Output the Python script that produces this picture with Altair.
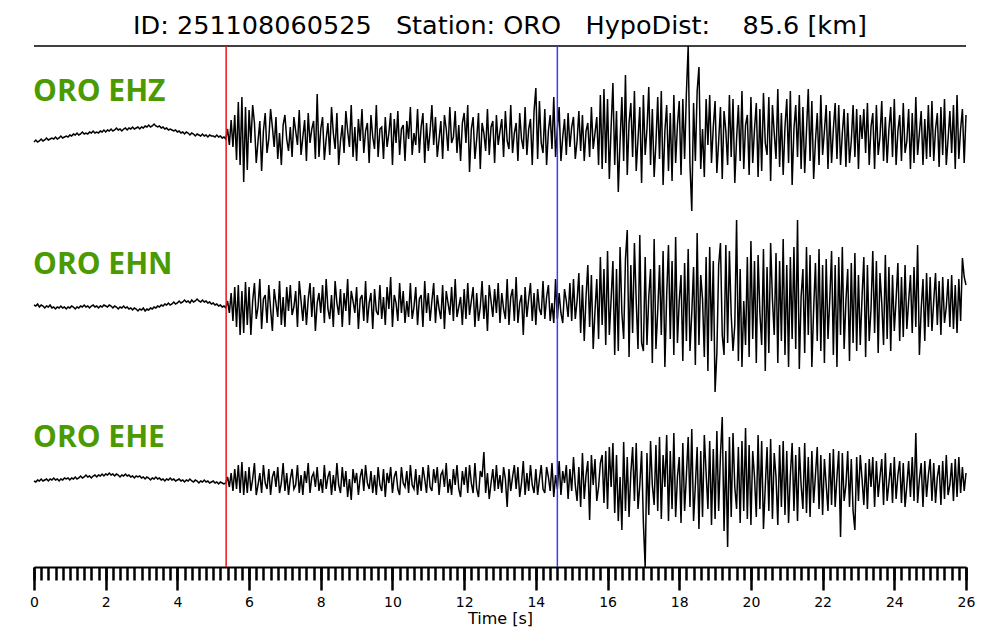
import altair as alt
import pandas as pd

# ---------------- data ----------------
DT = 0.05  # sample interval [s]
CHANNELS = ["ORO EHZ", "ORO EHN", "ORO EHE"]
PICK_NAMES = ["P", "S"]
PICK_TIMES = [5.36, 14.60]
MAJOR_TICKS = [0, 2, 4, 6, 8, 10, 12, 14, 16, 18, 20, 22, 24, 26]
TITLE = "ID: 251108060525   Station: ORO   HypoDist:    85.6 [km]"

EHZ = [
    -7, -5, -7, -6, -4, -6, -5, -3, -5, -4, -3, -4, -2, -4, -3, -1, -3, -2, -1, -2,
    0, -1, 1, 0, 2, 0, 1, 3, 1, 2, 1, 3, 2, 4, 2, 3, 2, 4, 3, 5,
    3, 5, 4, 6, 4, 5, 7, 5, 6, 4, 6, 7, 5, 7, 6, 8, 6, 7, 8, 6,
    8, 7, 9, 8, 10, 8, 9, 11, 9, 8, 9, 7, 8, 6, 7, 5, 6, 5, 4, 5,
    3, 4, 2, 3, 1, 3, 2, 0, 2, 1, -1, 1, 0, -1, 1, -1, 0, -2, 0, -1,
    -1, -2, 0, -2, -1, -3, -2, -4, 6, -10, 15, -12, 20, -25, 33, -30, 38, -47, 28, -35,
    25, -8, 30, 12, -28, -6, 14, -36, 4, 22, -18, -4, 26, 8, -12, 18, -24, 2, -30, 10,
    20, -4, -16, 8, -22, 18, 4, -10, 25, -20, -2, 15, -26, 22, -8, 6, 14, -24, 41, -22,
    6, 18, -25, -4, 12, -20, 28, 2, -14, 22, -30, -6, 10, -18, 24, 4, -12, 30, -22, 8,
    -26, 16, -6, 26, -18, 4, 12, -28, 20, -2, -14, 30, -22, 6, 8, -24, 18, -12, 2, 22,
    -30, 16, -8, 24, -20, 6, 10, -26, 14, -4, 28, -20, 2, -10, 26, -18, 8, 22, -28, 12,
    -16, 4, 30, -10, 18, -22, -4, 14, -24, 20, 6, -16, 28, -8, -2, 24, -18, 10, -26, 12,
    22, -8, 30, -37, 6, 18, -24, -4, 22, -34, 12, 2, -16, 26, -20, 8, 14, -28, 20, -10,
    4, 16, -22, 24, -6, -14, 30, -18, 2, 12, -26, 22, -4, -14, 28, -20, 6, 16, -30, 24,
    47, -24, 34, -8, -18, 26, -30, 4, 20, -14, 38, -22, 6, 28, -26, -2, 16, -20, 22, -12,
    8, 18, -24, -6, 24, -16, 20, -26, 4, 12, -22, 28, -14, 2, 18, -30, 40, -34, 46, -28,
    36, -44, 8, 52, -30, 24, -57, -6, 38, -26, 60, -40, 12, 32, -22, 44, -36, -4, 28, -48,
    40, -20, 6, 48, -30, 26, -42, -8, 38, -24, 44, -50, 4, 30, -36, 22, -46, 40, -28, 10,
    34, -40, 36, -24, 42, 89, -30, -76, 32, -26, 44, 68, -34, 6, -42, 36, -10, 40, -28, 8,
    34, -38, -6, 28, -44, 24, 4, -30, 40, -22, 36, -48, -4, 30, -26, 44, -34, 10, 20, -40,
    38, -28, 6, 32, -42, 26, -36, 42, -8, -20, 38, -46, 30, 2, -24, 46, -32, 22, -40, 8,
    36, -28, 44, -50, 6, 30, -22, 40, -34, 28, -38, 4, 46, -26, 34, -44, -6, 22, -30, 40,
    -20, 4, 30, -34, 24, -28, 6, 32, -24, 30, -30, 2, 26, -32, 22, -28, -6, 30, -22, 26,
    -34, 20, -4, 26, -18, 32, -30, 8, 22, -34, 30, -20, -2, 34, -26, 18, -28, 6, 28, -22,
    36, -30, 4, 20, -26, 32, -18, -6, 26, -34, 22, -28, 38, -20, 2, 24, -30, 16, -24, 30,
    -22, 34, -26, 6, 22, -32, 28, -20, 36, -30, -4, 24, -18, 30, -34, 40, -24, 6, 26, -28,
    20,
]

EHN = [
    0, -1, 1, -2, 0, -1, -3, -1, -2, 0, -3, -2, -4, -2, -3, -1, -3, -2, -4, -2,
    -3, -1, -2, -4, -2, -3, -1, -2, 0, -2, -1, -3, -1, 0, -2, -1, -3, -1, -2, 0,
    -1, -2, 0, -1, -3, -1, -2, -4, -2, -3, -1, -3, -2, -4, -3, -5, -3, -4, -6, -4,
    -5, -3, -6, -4, -5, -3, -4, -2, -3, -1, -2, 0, -1, 1, 0, 2, 0, 1, 3, 1,
    2, 4, 2, 3, 5, 3, 4, 2, 5, 3, 4, 6, 4, 3, 5, 3, 4, 2, 3, 1,
    2, 0, 1, -1, 0, -2, -1, -3, 4, -8, 12, -16, 18, -22, 20, -30, 14, -28, 23, -20,
    18, -30, 4, 22, -14, -2, 26, -24, 6, 10, -18, 20, -4, -26, 16, 2, -12, 24, -20, 8,
    -22, 18, -6, 20, -10, -2, 14, -22, 24, 4, -16, 10, -20, 6, 22, -12, 18, -26, 2, 12,
    -8, 20, -18, 26, -4, -14, 10, -22, 24, 2, -10, 16, -22, 12, -6, 26, -20, 14, 4, -8,
    18, -24, 6, 10, -16, 24, -18, 2, 12, -24, 16, -6, -10, 20, -14, 8, -20, 18, -4, 28,
    -22, 10, 2, -16, 22, -8, 14, -18, 4, -12, 22, -14, -2, 18, -20, 6, 10, -22, 24, -8,
    12, -16, 4, 22, -18, 10, -4, -14, 20, -24, 14, 2, -10, 18, -16, 26, -12, -2, 8, -20,
    16, -14, 22, -10, 4, 18, -22, 12, -16, -2, 24, -14, 10, -26, 20, 4, -12, 16, -8, 22,
    -18, 12, -4, -14, 26, -20, 8, 16, -16, 28, -18, 2, 10, -30, 18, -12, 6, 22, -16, 12,
    -20, 16, -4, -10, 24, -14, 8, 20, -16, 2, -18, 26, -14, 12, -8, -18, 16, 4, -12, 22,
    -16, 26, -14, 4, 32, -28, 20, -36, 8, 40, -22, 30, -44, -6, 26, -34, 48, -20, 36, -40,
    54, -30, 6, 44, -50, 36, -46, 58, -8, -34, 46, 75, -52, 40, -28, 62, 4, -44, 70, -38,
    -46, 48, -40, 8, 36, -58, 66, -44, -6, 40, -30, 54, -62, 10, 60, -34, 44, -50, 68, -38,
    4, 30, -56, 42, -36, 56, -46, -8, 38, -60, 72, -40, 30, 6, -52, 48, -66, 58, -36, 44,
    -87, -48, 40, 62, -30, -50, 60, -38, 54, -10, -46, -20, 85, -56, 36, -62, 4, -40, 48, -52,
    64, -34, 44, -58, 50, -8, -40, 56, -66, 38, -48, 62, 6, -30, 52, -58, 44, -36, 66, -50,
    40, -62, 48, -34, 58, -44, 85, -64, 8, 36, -48, 58, -30, 50, -62, -4, 42, -36, 56, -46,
    40, -58, 46, -34, 6, 54, -50, 40, -62, 48, -30, 58, -44, 4, 36, -56, 42, -38, 52, -46,
    30, -40, 8, 48, -52, 40, -36, -4, 54, -28, 44, -48, 32, 2, -40, 50, -34, 38, -46, 30,
    -26, 6, 42, -36, 28, -32, 40, -24, 4, 30, -28, 38, -22, 60, -50, -4, 26, -36, 32, -22,
    28, -26, 4, 32, -20, 24, -30, 28, -18, -2, 26, -22, 30, -24, 20, -28, 26, -16, 47, 28,
    20,
]

EHE = [
    0, -1, 1, 0, 2, 0, 1, 2, 0, 2, 1, 3, 1, 2, 0, 2, 1, 3, 2, 3,
    1, 3, 2, 4, 2, 3, 5, 3, 4, 6, 4, 5, 3, 5, 6, 4, 6, 5, 7, 5,
    7, 6, 8, 6, 7, 5, 7, 6, 4, 6, 5, 7, 5, 6, 4, 5, 3, 5, 4, 5,
    3, 4, 2, 4, 3, 1, 3, 2, 4, 2, 3, 1, 2, 0, 2, 1, 3, 1, 2, 0,
    1, 2, 0, 1, -1, 1, 0, 2, 0, -1, 1, 0, -2, 0, -1, 1, -1, 0, -2, -1,
    0, -2, -1, -3, -1, -2, -3, -2, 4, -6, 8, -10, 12, -8, 16, -12, 19, -14, 10, -12,
    14, -10, 2, 18, -14, -4, 8, -12, 16, -2, -8, 12, -14, 4, 10, -6, 14, -12, -2, 18,
    -10, 8, -14, 2, 12, -8, -4, 16, -12, 6, -14, 10, -2, 18, -12, 4, 8, -6, 14, -10,
    2, -12, 16, -8, 4, 10, -14, 6, -10, 18, -4, -12, 14, -6, 10, -16, 2, -19, 12, -2,
    8, -14, 4, 12, -10, 16, -2, -8, 10, -12, 6, -14, 14, -4, -10, 12, -16, 8, -2, 14,
    -12, 4, 10, -8, -14, 14, -2, -6, 10, -12, 16, -4, -8, 12, -14, 6, -10, 14, 2, -12,
    16, -6, -10, 12, -2, 14, -14, 6, 10, -6, 18, -12, 2, -14, 12, -4, 16, -8, -16, 10,
    -4, 14, -12, 16, -2, -12, 18, -8, -16, 10, 4, 29, -12, 8, -18, -2, 12, -10, 16, -8,
    6, -12, 14, 2, -26, 12, -10, 4, 16, -8, 14, -16, -2, 20, -14, 8, -10, 16, -4, -12,
    12, -14, 2, 16, -8, -12, 14, 4, -10, 18, -16, 6, -8, 20, -14, 10, -2, 16, -18, 12,
    -10, 24, -4, -20, 14, -26, 28, -18, 6, 20, -39, 26, -4, 22, -20, -6, 18, 26, -22, 30,
    -28, 34, -6, 38, -32, 26, -40, 4, -49, 39, -30, 24, -36, 8, 34, -20, 38, -28, -4, 30,
    -42, -86, 28, -34, 40, -4, -24, 36, -30, 44, -38, 26, -6, 46, -40, 30, -28, 48, -36, 4,
    24, -42, 38, -30, 6, 44, -26, 52, -40, -4, 34, -48, 30, -36, 46, 8, -28, 40, -44, 32,
    -38, 50, -30, 26, 64, -50, 30, -66, 44, -36, 48, -6, -28, 34, -42, 40, -30, 53, -38, 36,
    -44, 30, 4, -36, 46, -28, 40, -48, -6, 34, -30, 42, -38, 28, 4, -44, 36, -26, 40, -34,
    30, -42, 6, 38, -30, 26, -40, 34, -4, -28, 38, -32, 24, -36, 30, -22, 6, 34, -28, 26,
    -34, 22, -4, -30, 28, -24, 32, -26, 4, 30, -56, 28, -20, -4, 30, -26, 22, -30, -49, 24,
    -20, 26, 2, -24, 18, -28, 22, -6, 24, -26, 20, -16, 4, 22, -24, 28, -20, -2, 18, -22,
    24, -18, 6, 20, -22, 18, -26, -4, 20, -16, 24, -20, 48, -22, 2, 18, -26, 20, -16, 6,
    22, -20, 18, -22, 4, 16, -24, 20, -18, 26, -14, -4, 18, -20, 22, -16, 24, -12, 14, -10,
    8,
]

# ---------------- layout constants ----------------
W, H = 932, 521
OFFSETS = {"ORO EHZ": 432, "ORO EHN": 262, "ORO EHE": 86}
LABEL_RISE = {"ORO EHZ": 43, "ORO EHN": 40, "ORO EHE": 43}
FONT = "DejaVu Sans"
GREEN = "#4b9a00"

rows = []
for ch, vals in zip(CHANNELS, [EHZ, EHN, EHE]):
    for i, v in enumerate(vals):
        rows.append({"ch": ch, "t": round(i * DT, 3), "y": OFFSETS[ch] + v})
traces = pd.DataFrame(rows)

labels = pd.DataFrame({"ch": CHANNELS, "t": [0.0] * 3,
                       "y": [OFFSETS[c] + LABEL_RISE[c] for c in CHANNELS]})
picks = pd.DataFrame({"name": PICK_NAMES, "t": PICK_TIMES})
top = pd.DataFrame({"y": [H]})

minor_ticks = [round(i * 0.2, 1) for i in range(int(26 / 0.2) + 1)]

xscale = alt.Scale(domain=[0, 26], nice=False, zero=False)
yscale = alt.Scale(domain=[0, H], nice=False, zero=False)

minor_axis = alt.Axis(values=minor_ticks, orient="bottom", tickSize=13, tickWidth=2.5,
                      tickColor="black", labels=False, domain=True, domainColor="black",
                      domainWidth=1.8, title=None, grid=False)
major_axis = alt.Axis(values=MAJOR_TICKS, orient="bottom", tickSize=23, tickWidth=2.5,
                      tickColor="black", labels=True, labelFont=FONT, labelFontSize=14,
                      labelColor="black", labelPadding=5, labelFlush=False,
                      labelOverlap=False, format="d", domain=False, grid=False,
                      title="Time [s]", titleFont=FONT, titleFontSize=16,
                      titleFontWeight="normal", titleColor="black", titlePadding=1)

lines = alt.Chart(traces).mark_line(color="black", strokeWidth=1.5).encode(
    x=alt.X("t:Q", scale=xscale, axis=minor_axis),
    y=alt.Y("y:Q", scale=yscale, axis=None),
    detail="ch:N",
)

text = alt.Chart(labels).mark_text(align="left", baseline="middle", dx=-1,
                                   font="Open Sans", fontWeight="bold", fontSize=30,
                                   color=GREEN).encode(
    x=alt.X("t:Q", scale=xscale, axis=None),
    y=alt.Y("y:Q", scale=yscale, axis=None),
    text="ch:N",
)

topline = alt.Chart(top).mark_rule(color="black", strokeWidth=1.5).encode(
    y=alt.Y("y:Q", scale=yscale, axis=None),
)

pick_rules = alt.Chart(picks).mark_rule(strokeWidth=1.5).encode(
    x=alt.X("t:Q", scale=xscale, axis=major_axis),
    color=alt.Color("name:N", scale=alt.Scale(domain=PICK_NAMES, range=["#e8141c", "#3a3aff"]),
                    legend=None),
)

chart = alt.layer(lines, text, topline, pick_rules).resolve_axis(x="independent").properties(
    width=W, height=H,
    title=alt.TitleParams(TITLE.replace(" ", "\u00a0"), font=FONT, fontSize=25.5,
                          fontWeight="normal", color="black", anchor="middle", offset=4),
    autosize=alt.AutoSizeParams(type="none"),
    padding={"left": 26, "top": 38, "right": 26, "bottom": 64},
    background="white",
).configure_view(stroke=None)

chart.save("out.html", embed_options={"renderer": "svg", "actions": False})
